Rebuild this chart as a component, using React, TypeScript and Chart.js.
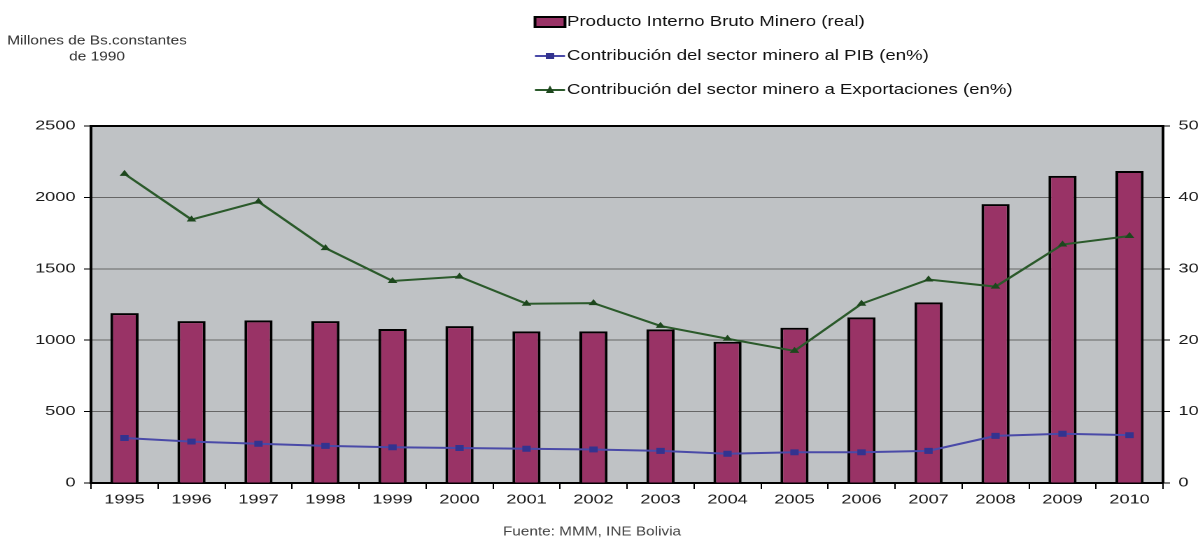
import React, { useEffect, useRef } from "react";
import { Chart, registerables } from "chart.js";

Chart.register(...registerables);

const years = ["1995", "1996", "1997", "1998", "1999", "2000", "2001", "2002", "2003", "2004", "2005", "2006", "2007", "2008", "2009", "2010"];
const pibMinero = [1190, 1134, 1139, 1134, 1078, 1099, 1062, 1062, 1076, 989, 1087, 1160, 1265, 1953, 2151, 2185];
const contribPIB = [6.3, 5.8, 5.5, 5.2, 5.0, 4.9, 4.8, 4.7, 4.5, 4.1, 4.3, 4.3, 4.5, 6.6, 6.9, 6.7];
const contribExport = [43.3, 36.9, 39.4, 32.9, 28.3, 28.9, 25.1, 25.2, 22.0, 20.2, 18.5, 25.1, 28.5, 27.5, 33.4, 34.6];

const leftMax = 2500;
const leftStep = 500;
const rightMax = 50;
const rightStep = 10;

const labelBars = "Producto Interno Bruto Minero (real)";
const labelPIB = "Contribución del sector minero al PIB (en%)";
const labelExport = "Contribución del sector minero a Exportaciones (en%)";
const yTitleLines = ["Millones de Bs.constantes", "de 1990"];
const sourceNote = "Fuente: MMM, INE Bolivia";

// The reference is a horizontally stretched picture: draw on a narrower canvas and stretch it.
const OUT_W = 1198;
const OUT_H = 539;
const IN_W = 856;
const S = OUT_W / IN_W;

const FONT = "'Liberation Sans', Arial, sans-serif";
const BAR_COLOR = "#993366";
const PIB_COLOR = "#4a4aa8";
const PIB_MARK = "#33338f";
const EXP_COLOR = "#2b5a2b";
const EXP_MARK = "#1d471d";

function scaledText(ctx: any, text: string, realX: number, y: number, sx: number) {
  ctx.save();
  ctx.scale(sx / S, 1);
  ctx.fillText(text, realX / sx, y);
  ctx.restore();
}

const decorPlugin = {
  id: "decor",
  beforeDraw(chart: any) {
    const { ctx, chartArea } = chart;
    ctx.save();
    ctx.fillStyle = "#ffffff";
    ctx.fillRect(0, 0, chart.width, chart.height);
    ctx.fillStyle = "#bfc2c5";
    ctx.fillRect(chartArea.left, chartArea.top, chartArea.right - chartArea.left, chartArea.bottom - chartArea.top);
    ctx.restore();
  },
  afterDraw(chart: any) {
    const { ctx, chartArea } = chart;
    ctx.save();
    ctx.strokeStyle = "#000";
    ctx.lineWidth = 2;
    ctx.beginPath();
    ctx.moveTo(chartArea.left, chartArea.top);
    ctx.lineTo(chartArea.right, chartArea.top);
    ctx.stroke();

    // legend symbols (internal coordinates)
    const sx = 535 / S;
    const ex = 565 / S;
    const mx = (sx + ex) / 2;
    const textX = 567;
    const rows = [22, 56, 90];
    ctx.fillStyle = BAR_COLOR;
    ctx.fillRect(sx, rows[0] - 5, ex - sx, 10);
    ctx.strokeStyle = "#000";
    ctx.lineWidth = 2;
    ctx.strokeRect(sx, rows[0] - 5, ex - sx, 10);

    ctx.strokeStyle = PIB_COLOR;
    ctx.lineWidth = 2;
    ctx.beginPath();
    ctx.moveTo(sx, rows[1]);
    ctx.lineTo(ex, rows[1]);
    ctx.stroke();
    ctx.fillStyle = PIB_MARK;
    ctx.fillRect(mx - 3, rows[1] - 3, 6, 6);

    ctx.strokeStyle = EXP_COLOR;
    ctx.beginPath();
    ctx.moveTo(sx, rows[2]);
    ctx.lineTo(ex, rows[2]);
    ctx.stroke();
    ctx.fillStyle = EXP_MARK;
    ctx.beginPath();
    ctx.moveTo(mx, rows[2] - 4.5);
    ctx.lineTo(mx + 3, rows[2] + 3);
    ctx.lineTo(mx - 3, rows[2] + 3);
    ctx.closePath();
    ctx.fill();

    // legend texts
    ctx.font = `15px ${FONT}`;
    ctx.textBaseline = "middle";
    ctx.textAlign = "left";
    ctx.fillStyle = "#111";
    scaledText(ctx, labelBars, textX, rows[0], 1.24);
    scaledText(ctx, labelPIB, textX, rows[1], 1.24);
    scaledText(ctx, labelExport, textX, rows[2], 1.24);

    // y axis title
    ctx.fillStyle = "#333";
    ctx.font = `13px ${FONT}`;
    ctx.textAlign = "center";
    scaledText(ctx, yTitleLines[0], 97, 41, 1.19);
    scaledText(ctx, yTitleLines[1], 97, 57, 1.19);

    // source note
    ctx.fillStyle = "#444";
    ctx.font = `13px ${FONT}`;
    scaledText(ctx, sourceNote, 592, 532, 1.18);
    ctx.restore();
  },
};

export default function App() {
  const ref = useRef<HTMLCanvasElement | null>(null);

  useEffect(() => {
    document.body.style.margin = "0";
    const canvas = ref.current;
    if (!canvas) return;
    const chart = new Chart(canvas, {
      type: "bar",
      data: {
        labels: years,
        datasets: [
          {
            type: "line",
            label: labelPIB,
            data: contribPIB,
            yAxisID: "y1",
            borderColor: PIB_COLOR,
            backgroundColor: PIB_MARK,
            borderWidth: 2,
            pointStyle: "rect",
            pointRadius: 4.2,
            pointBorderWidth: 0,
            tension: 0,
            order: 1,
          },
          {
            type: "line",
            label: labelExport,
            data: contribExport,
            yAxisID: "y1",
            borderColor: EXP_COLOR,
            backgroundColor: EXP_MARK,
            borderWidth: 2,
            pointStyle: "triangle",
            pointRadius: 4,
            pointBorderWidth: 0,
            tension: 0,
            order: 1,
          },
          {
            type: "bar",
            label: labelBars,
            data: pibMinero,
            yAxisID: "y",
            backgroundColor: BAR_COLOR,
            borderColor: "#000",
            borderWidth: 2,
            barPercentage: 0.42,
            categoryPercentage: 1,
            order: 2,
          },
        ],
      },
      options: {
        responsive: false,
        animation: false,
        devicePixelRatio: 2,
        layout: { padding: { left: 20, right: 0, top: 126, bottom: 26 } },
        plugins: {
          legend: { display: false },
          tooltip: { enabled: false },
          title: { display: false },
        },
        scales: {
          x: {
            offset: true,
            grid: {
              offset: true,
              drawOnChartArea: false,
              drawTicks: true,
              tickLength: 6,
              tickColor: "#000",
              lineWidth: 1,
            },
            border: { color: "#000", width: 2 },
            ticks: { color: "#1a1a1a", font: { family: FONT, size: 13 }, padding: 3, maxRotation: 0 },
            afterFit(scale: any) {
              scale.height = 30;
            },
          },
          y: {
            position: "left",
            min: 0,
            max: leftMax,
            ticks: {
              stepSize: leftStep,
              color: "#1a1a1a",
              font: { family: FONT, size: 13 },
              padding: 6,
              callback: (v: any) => String(v),
            },
            grid: { color: "#666666", lineWidth: 1, tickLength: 5, tickColor: "#000" },
            border: { color: "#000", width: 2 },
            afterFit(scale: any) {
              scale.width = 45;
            },
          },
          y1: {
            position: "right",
            min: 0,
            max: rightMax,
            ticks: {
              stepSize: rightStep,
              color: "#1a1a1a",
              font: { family: FONT, size: 13 },
              padding: 6,
              callback: (v: any) => String(v),
            },
            grid: { drawOnChartArea: false, tickLength: 5, tickColor: "#000" },
            border: { color: "#000", width: 2 },
            afterFit(scale: any) {
              scale.width = 25;
            },
          },
        },
      },
      plugins: [decorPlugin],
    });
    return () => chart.destroy();
  }, []);

  return (
    <div style={{ position: "absolute", left: 0, top: 0, width: OUT_W, height: OUT_H, overflow: "hidden" }}>
      <div style={{ width: IN_W, height: OUT_H, transform: `scaleX(${S})`, transformOrigin: "0 0" }}>
        <canvas ref={ref} width={IN_W} height={OUT_H} style={{ width: IN_W, height: OUT_H }} />
      </div>
    </div>
  );
}
